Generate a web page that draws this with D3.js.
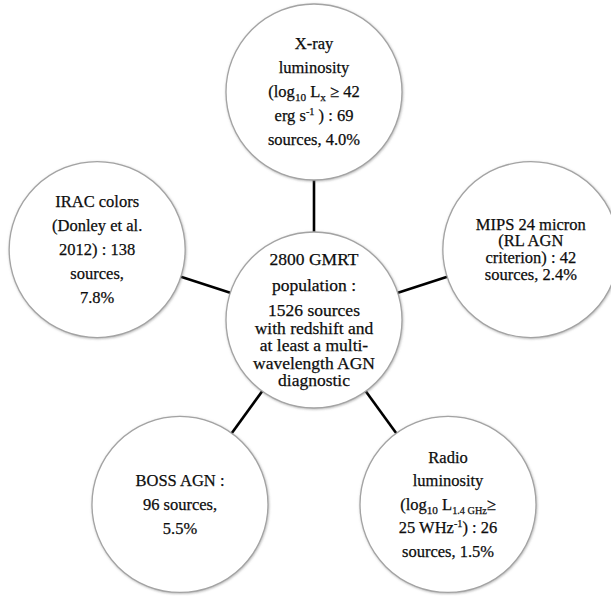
<!DOCTYPE html>
<html>
<head>
<meta charset="utf-8">
<script src="https://cdn.jsdelivr.net/npm/d3@7"></script>
<style>
  html, body { margin: 0; padding: 0; background: #fff; }
</style>
</head>
<body>
<div id="Diagram"></div>
<script>
// DATA
const centerLabel = ["2800 GMRT", "population :", "1526 sources", "with redshift and",
  "at least a multi-", "wavelength AGN", "diagnostic"]
const nodeNames = ["xray", "mips", "radio", "boss", "irac"]
const nodeLabels = [
  ["X-ray", "luminosity", "(log_{10} L_{x} ≥ 42", "erg s^{-1} ) : 69", "sources, 4.0%"],
  ["MIPS 24 micron", "(RL AGN", "criterion) : 42", "sources, 2.4%"],
  ["Radio", "luminosity", "(log_{10} L_{1.4 GHz}≥", "25 WHz^{-1}) : 26", "sources, 1.5%"],
  ["BOSS AGN :", "96 sources,", "5.5%"],
  ["IRAC colors", "(Donley et al.", "2012) : 138", "sources,", "7.8%"],
]

// LAYOUT
const width = 611
const height = 596
const center = { x: 314, y: 320 }
const orbit = 228
const radius = 88
const lineGaps = {
  center: [26, 25, 17.5, 17.5, 17.5, 17.5],
  xray: [24, 24, 24, 24],
  mips: [16.7, 16.7, 16.7],
  radio: [23.5, 23.5, 23.5, 23.5],
  boss: [24, 24],
  irac: [24, 24, 24, 24],
}

// angle of each outer node, starting at the top and going clockwise
const angleScale = d3.scaleLinear()
  .domain([0, nodeNames.length])
  .range([-Math.PI / 2, 1.5 * Math.PI])

const nodes = nodeNames.map((name, i) => ({
  name,
  lines: nodeLabels[i],
  x: center.x + orbit * Math.cos(angleScale(i)),
  y: center.y + orbit * Math.sin(angleScale(i)),
  fontSize: 16.5,
}))
const hub = { name: "center", lines: centerLabel, x: center.x, y: center.y, fontSize: 17.5 }

const wrapper = d3.select("#Diagram")
  .append("svg")
  .attr("width", width)
  .attr("height", height)

const defs = wrapper.append("defs")
const shadow = defs.append("filter")
  .attr("id", "soft")
  .attr("x", "-10%").attr("y", "-10%")
  .attr("width", "120%").attr("height", "120%")
shadow.append("feDropShadow")
  .attr("dx", 0.6).attr("dy", 0.8)
  .attr("stdDeviation", 1.2)
  .attr("flood-color", "#777")
  .attr("flood-opacity", 0.55)

// connectors
wrapper.append("g")
  .selectAll("line")
  .data(nodes)
  .join("line")
  .attr("x1", center.x)
  .attr("y1", center.y)
  .attr("x2", (d) => d.x)
  .attr("y2", (d) => d.y)
  .attr("stroke", "#000")
  .attr("stroke-width", 2.6)

const all = [hub, ...nodes]

const groups = wrapper.append("g")
  .selectAll("g")
  .data(all)
  .join("g")
  .attr("transform", (d) => `translate(${d.x},${d.y})`)

groups.append("circle")
  .attr("r", radius)
  .attr("fill", "#fff")
  .attr("stroke", "#a3a3a3")
  .attr("stroke-width", 1.3)
  .attr("filter", "url(#soft)")

// split a label line into plain / sub / sup pieces
const parseLine = (str) => str.split(/(_\{[^}]*\}|\^\{[^}]*\})/)
  .filter((s) => s.length)
  .map((s) => {
    if (s.startsWith("_{")) return { text: s.slice(2, -1), kind: "sub" }
    if (s.startsWith("^{")) return { text: s.slice(2, -1), kind: "sup" }
    return { text: s, kind: "normal" }
  })

groups.each(function (d) {
  const g = d3.select(this)
  const gaps = lineGaps[d.name]
  const total = d3.sum(gaps)
  let y = -total / 2
  d.lines.forEach((line, i) => {
    const text = g.append("text")
      .attr("x", 0)
      .attr("y", y)
      .attr("dy", "0.32em")
      .attr("text-anchor", "middle")
      .attr("font-family", "'Liberation Serif', 'DejaVu Serif', serif")
      .attr("font-size", d.fontSize)
      .attr("fill", "#0d0d0d")
      .attr("stroke", "#0d0d0d")
      .attr("stroke-width", 0.25)
    parseLine(line).forEach((p) => {
      const t = text.append("tspan").text(p.text)
      if (p.kind === "sub") {
        t.attr("font-size", p.text.length > 3 ? d.fontSize * 0.62 : d.fontSize * 0.68)
          .attr("baseline-shift", -3.5)
      } else if (p.kind === "sup") {
        t.attr("font-size", d.fontSize * 0.62)
          .attr("baseline-shift", 6)
      }
    })
    if (i < gaps.length) y += gaps[i]
  })
})
</script>
</body>
</html>
